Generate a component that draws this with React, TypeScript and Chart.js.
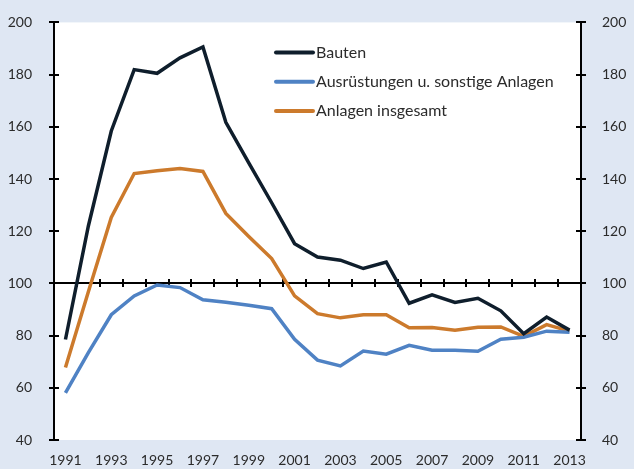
import React, { useEffect, useRef } from "react";
import { Chart, registerables } from "chart.js";

Chart.register(...registerables);

const years = [
  "1991", "1992", "1993", "1994", "1995", "1996", "1997", "1998", "1999", "2000",
  "2001", "2002", "2003", "2004", "2005", "2006", "2007", "2008", "2009", "2010",
  "2011", "2012", "2013",
];

const bauten = [
  78.5, 122, 158.4, 181.9, 180.5, 186.4, 190.6, 161.7, 146.2, 130.9,
  115.2, 110.1, 108.9, 105.7, 108.2, 92.4, 95.6, 92.7, 94.3, 89.5,
  80.7, 87.1, 82.1,
];

const ausruestungen = [
  58.1, 73.5, 88, 95.2, 99.4, 98.4, 93.7, 92.8, 91.6, 90.3,
  78.6, 70.6, 68.4, 74.1, 72.9, 76.3, 74.4, 74.4, 74, 78.6,
  79.4, 81.7, 81.3,
];

const anlagen = [
  67.8, 96.8, 125.3, 142.1, 143.2, 144, 142.9, 126.8, 118, 109.5,
  95.2, 88.4, 86.8, 88, 88, 83, 83.1, 82.1, 83.2, 83.3,
  79.7, 84.2, 81.7,
];

const seriesLabels = ["Bauten", "Ausrüstungen u. sonstige Anlagen", "Anlagen insgesamt"];
const yMin = 40;
const yMax = 200;
const yStep = 20;
const baseline = 100;

const BG = "#dfe7f3";
const TEXT = "#2b2b2b";
const FONT = "Lato";
const COLORS = ["#0f1e2c", "#4f82c4", "#cc7a2c"];

const framePlugin = {
  id: "frame",
  beforeDraw(chart: any) {
    const { ctx, chartArea: a, width, height } = chart;
    ctx.save();
    ctx.fillStyle = BG;
    ctx.fillRect(0, 0, width, height);
    ctx.fillStyle = "#ffffff";
    ctx.fillRect(a.left, a.top, a.right - a.left, a.bottom - a.top);
    ctx.restore();
  },
  beforeDatasetsDraw(chart: any) {
    const { ctx, chartArea: a } = chart;
    const ys = chart.scales.y;
    const xs = chart.scales.x;
    ctx.save();
    ctx.strokeStyle = "#000";
    ctx.lineWidth = 2;
    ctx.beginPath();
    ctx.moveTo(a.left, a.top);
    ctx.lineTo(a.left, a.bottom);
    ctx.moveTo(a.right, a.top);
    ctx.lineTo(a.right, a.bottom);
    for (let v = yMin; v <= yMax; v += yStep) {
      const y = Math.round(ys.getPixelForValue(v));
      ctx.moveTo(a.left - 5, y);
      ctx.lineTo(a.left + 5, y);
      ctx.moveTo(a.right - 5, y);
      ctx.lineTo(a.right + 5, y);
    }
    const y0 = Math.round(ys.getPixelForValue(baseline));
    ctx.moveTo(a.left, y0);
    ctx.lineTo(a.right, y0);
    for (let i = 0; i < years.length - 1; i++) {
      const x = Math.round((xs.getPixelForValue(i) + xs.getPixelForValue(i + 1)) / 2);
      ctx.moveTo(x, y0 - 4);
      ctx.lineTo(x, y0 + 4);
    }
    ctx.stroke();
    ctx.restore();
  },
  afterDatasetsDraw(chart: any) {
    const { ctx, chartArea: a } = chart;
    ctx.save();
    ctx.font = `16px ${FONT}`;
    ctx.textBaseline = "middle";
    ctx.lineCap = "round";
    chart.data.datasets.forEach((ds: any, i: number) => {
      const y = a.top + 30 + i * 29.3;
      const x0 = a.left + 222;
      ctx.strokeStyle = ds.borderColor;
      ctx.lineWidth = 4;
      ctx.beginPath();
      ctx.moveTo(x0, y);
      ctx.lineTo(x0 + 37, y);
      ctx.stroke();
      ctx.fillStyle = TEXT;
      ctx.fillText(ds.label, x0 + 40, y);
    });
    ctx.restore();
  },
};

export default function App() {
  const ref = useRef<HTMLCanvasElement | null>(null);

  useEffect(() => {
    document.body.style.margin = "0";
    const canvas = ref.current;
    if (!canvas) return;
    const chart = new Chart(canvas, {
      type: "line",
      data: {
        labels: years,
        datasets: [bauten, ausruestungen, anlagen].map((d, i) => ({
          label: seriesLabels[i],
          data: d,
          borderColor: COLORS[i],
          backgroundColor: COLORS[i],
          borderWidth: 3.5,
          pointRadius: 0,
          tension: 0,
          fill: false,
        })),
      },
      options: {
        responsive: false,
        animation: false,
        layout: { padding: { top: 18, left: 0, right: 0, bottom: 0 } },
        plugins: { legend: { display: false }, tooltip: { enabled: false } },
        scales: {
          x: {
            type: "category",
            offset: true,
            grid: { display: false },
            border: { display: false },
            afterFit: (s: any) => { s.height = 29; },
            ticks: {
              autoSkip: false,
              maxRotation: 0,
              padding: 4,
              color: TEXT,
              font: { family: FONT, size: 14 },
              callback: (_v: any, i: number) => (i % 2 === 0 ? years[i] : ""),
            },
          },
          y: {
            position: "left",
            min: yMin,
            max: yMax,
            grid: { display: false },
            border: { display: false },
            afterFit: (s: any) => { s.width = 54; },
            ticks: { stepSize: yStep, padding: 14, color: TEXT, font: { family: FONT, size: 14 } },
          },
          y2: {
            position: "right",
            min: yMin,
            max: yMax,
            grid: { display: false },
            border: { display: false },
            afterFit: (s: any) => { s.width = 53; },
            ticks: { stepSize: yStep, padding: 13, color: TEXT, font: { family: FONT, size: 14 } },
          },
        },
      },
      plugins: [framePlugin],
    });
    return () => chart.destroy();
  }, []);

  return (
    <div style={{ width: 634, height: 469 }}>
      <canvas ref={ref} width={634} height={469} style={{ display: "block" }} />
    </div>
  );
}
